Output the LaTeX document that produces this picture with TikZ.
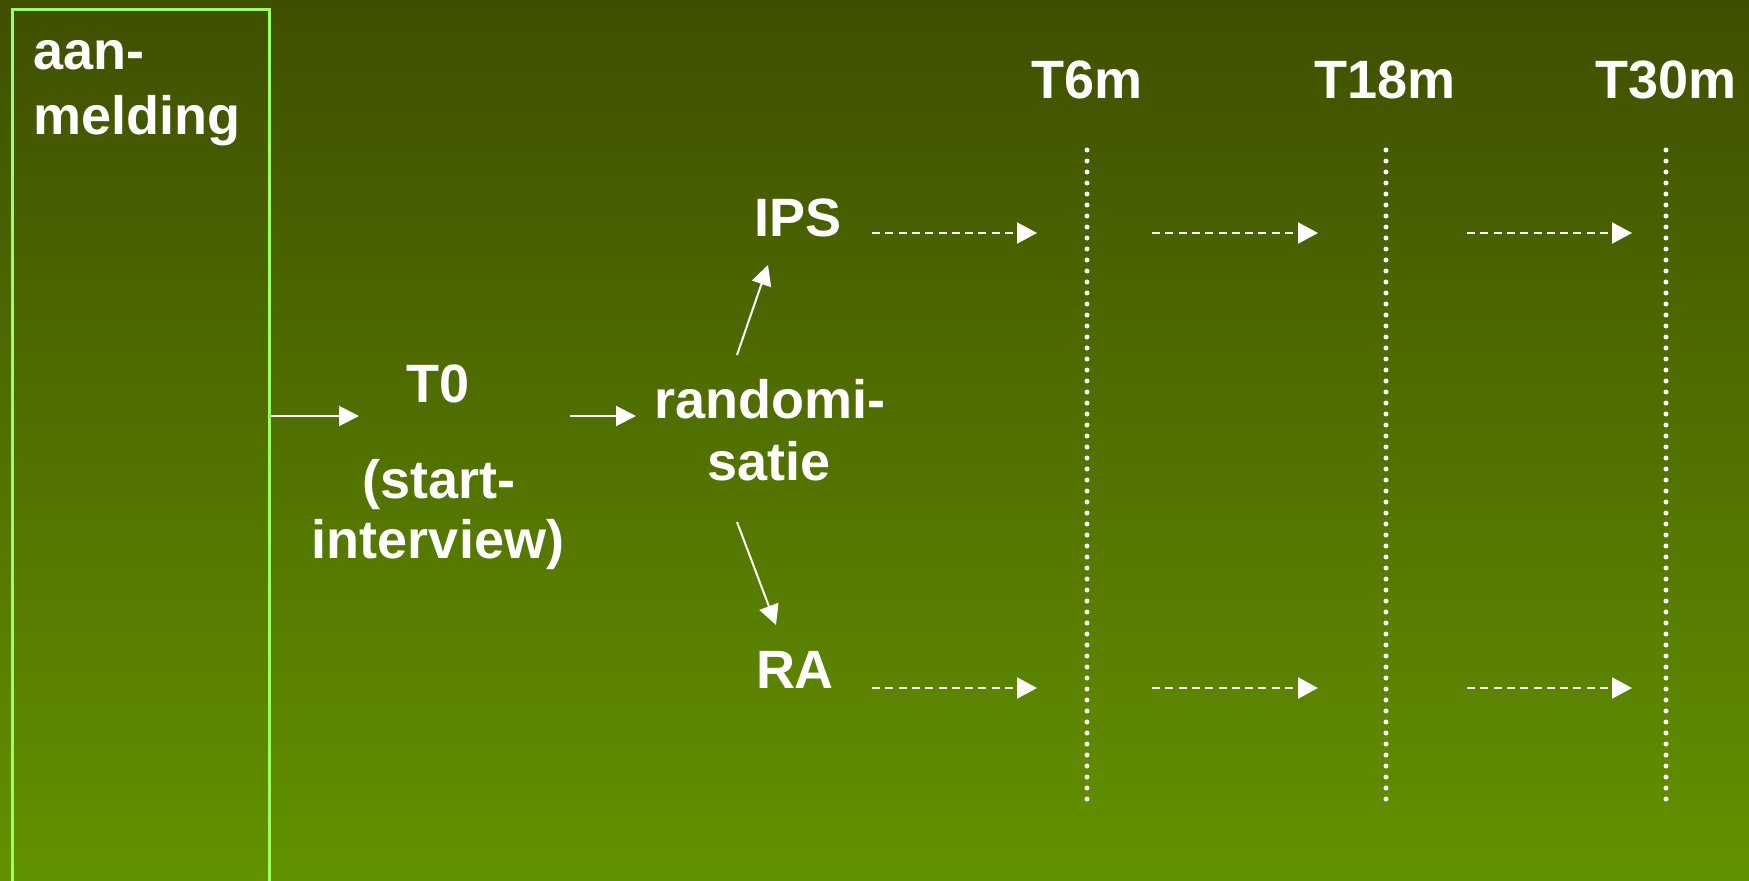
\documentclass[tikz,border=0pt]{standalone}
\usepackage{fontspec}
\setmainfont{Liberation Sans}
\usetikzlibrary{arrows.meta}
\definecolor{bgtop}{RGB}{63,79,0}
\definecolor{bgbot}{RGB}{99,146,0}
\definecolor{boxline}{RGB}{153,255,102}
\tikzset{
  lbl/.style={text=white, inner sep=0pt, font=\fontsize{54pt}{62pt}\selectfont\bfseries},
  solidarrow/.style={draw=white, line width=2pt, -{Triangle[length=20pt,width=20pt]}},
  dasharrow/.style={draw=white, line width=2pt, dash pattern=on 8pt off 5.3pt, -{Triangle[length=20pt,width=21pt]}},
  timeline/.style={draw=white, line width=5pt, line cap=round, dash pattern=on 0pt off 11pt},
}
\begin{document}
\begin{tikzpicture}[x=1pt,y=-1pt]
\useasboundingbox (0,0) rectangle (1749,881);
\clip (0,0) rectangle (1749,881);
\shade[top color=bgtop, bottom color=bgbot] (0,0) rectangle (1749,881);
% registration box
\node[draw=boxline, line width=2.5pt, minimum width=257pt, minimum height=900pt, anchor=north west, inner sep=0pt] (box) at (11,8) {};
\node[lbl, anchor=base west] (aan) at (33,69) {aan-};
\node[lbl, anchor=base west] (melding) at (33,134) {melding};
% T0
\node[lbl, anchor=base] (t0) at (438,402) {T0};
\node[lbl, anchor=base] (start) at (439,498) {(start-};
\node[lbl, anchor=base] (interview) at (438,558) {interview)};
% randomisatie
\node[lbl, anchor=base] (rand) at (770,418) {randomi-};
\node[lbl, anchor=base] (satie) at (769,480) {satie};
% arms
\node[lbl, anchor=base] (ips) at (798,236) {IPS};
\node[lbl, anchor=base] (ra) at (795,688) {RA};
% time points
\node[lbl, anchor=base] (t6) at (1087,98) {T6m};
\node[lbl, anchor=base] (t18) at (1385,98) {T18m};
\node[lbl, anchor=base] (t30) at (1666,98) {T30m};
% time lines
\coordinate (l6a) at (1087,150); \coordinate (l6b) at (1087,805);
\coordinate (l18a) at (1386,150); \coordinate (l18b) at (1386,805);
\coordinate (l30a) at (1666,150); \coordinate (l30b) at (1666,805);
\draw[timeline] (l6a) -- (l6b);
\draw[timeline] (l18a) -- (l18b);
\draw[timeline] (l30a) -- (l30b);
% solid arrows
\coordinate (a1s) at (box.east |- 0,416); \coordinate (a1e) at (359,416);
\draw[solidarrow] (a1s) -- (a1e);
\coordinate (a2s) at (570,416); \coordinate (a2e) at (636,416);
\draw[solidarrow] (a2s) -- (a2e);
\coordinate (a3s) at (737,355); \coordinate (a3e) at (768,265);
\draw[solidarrow] (a3s) -- (a3e);
\coordinate (a4s) at (737,522); \coordinate (a4e) at (776,625);
\draw[solidarrow] (a4s) -- (a4e);
% dashed arrows
\foreach \y/\r in {233/i, 688/r}{
  \coordinate (d1s\r) at (872,\y); \coordinate (d1e\r) at (1037,\y);
  \coordinate (d2s\r) at (1152,\y); \coordinate (d2e\r) at (1318,\y);
  \coordinate (d3s\r) at (1467,\y); \coordinate (d3e\r) at (1632,\y);
  \draw[dasharrow] (d1s\r) -- (d1e\r);
  \draw[dasharrow] (d2s\r) -- (d2e\r);
  \draw[dasharrow] (d3s\r) -- (d3e\r);
}
\end{tikzpicture}
\end{document}
